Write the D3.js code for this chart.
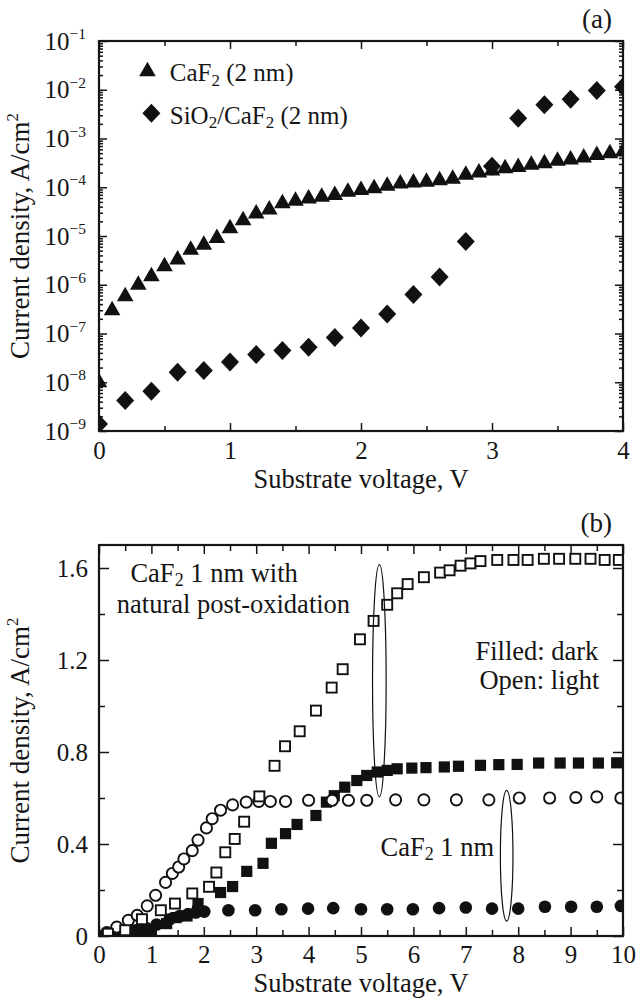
<!DOCTYPE html>
<html><head><meta charset="utf-8">
<script src="https://cdn.jsdelivr.net/npm/d3@7"></script>
<style>
body{margin:0;background:#fff}
svg text{font-family:"Liberation Serif","Times New Roman",Times,serif;fill:#151515}
</style>
</head><body>
<svg id="chart" width="636" height="998" font-family="Liberation Serif, Times New Roman, serif"></svg>
<script>
// ---------------- DATA ----------------
// Panel (a): log current density vs substrate voltage
const aTriV = [0,0.1,0.2,0.3,0.4,0.5,0.6,0.7,0.8,0.9,1.0,1.1,1.2,1.3,1.4,1.5,1.6,1.7,1.8,1.9,2.0,2.1,2.2,2.3,2.4,2.5,2.6,2.7,2.8,2.9,3.0,3.1,3.2,3.3,3.4,3.5,3.6,3.7,3.8,3.9,4.0];
const aTriJ = [1e-8,3.0e-7,5.8e-7,1.0e-6,1.5e-6,2.4e-6,3.3e-6,5.2e-6,6.6e-6,9.1e-6,1.45e-5,2.1e-5,2.9e-5,3.5e-5,4.7e-5,5.3e-5,5.9e-5,6.4e-5,6.9e-5,8.1e-5,8.8e-5,9.5e-5,1.07e-4,1.2e-4,1.25e-4,1.3e-4,1.4e-4,1.5e-4,1.8e-4,2.0e-4,2.2e-4,2.45e-4,2.6e-4,2.9e-4,3.1e-4,3.5e-4,3.7e-4,4.1e-4,4.6e-4,5.0e-4,5.4e-4];
const aDiaV = [0,0.2,0.4,0.6,0.8,1.0,1.2,1.4,1.6,1.8,2.0,2.2,2.4,2.6,2.8,3.0,3.2,3.4,3.6,3.8,4.0];
const aDiaJ = [1.4e-9,4.2e-9,6.5e-9,1.6e-8,1.75e-8,2.6e-8,3.7e-8,4.5e-8,5.2e-8,8.3e-8,1.3e-7,2.5e-7,6.3e-7,1.45e-6,7.7e-6,2.7e-4,2.6e-3,4.9e-3,6.4e-3,9.7e-3,1.15e-2];
const aXTicks = [0,1,2,3,4];
const aXMinor = [0.5,1.5,2.5,3.5];
const aYExp = [-1,-2,-3,-4,-5,-6,-7,-8,-9];
const aLegend = ["CaF2 (2 nm)", "SiO2/CaF2 (2 nm)"];

// Panel (b): linear current density vs substrate voltage
const bOpenSqV = [0.17,0.5,0.82,1.18,1.45,1.78,2.1,2.24,2.41,2.59,2.77,3.06,3.35,3.55,3.83,4.14,4.44,4.65,4.98,5.24,5.5,5.69,5.89,6.2,6.51,6.69,6.9,7.09,7.28,7.6,7.91,8.18,8.49,8.78,9.09,9.38,9.65,9.92];
const bOpenSqJ = [0.01,0.025,0.073,0.112,0.141,0.185,0.214,0.276,0.364,0.422,0.497,0.607,0.74,0.825,0.89,0.98,1.08,1.16,1.29,1.37,1.44,1.49,1.53,1.56,1.58,1.59,1.61,1.62,1.63,1.635,1.635,1.635,1.64,1.64,1.64,1.64,1.635,1.635];
const bFillSqV = [0.2,0.5,0.65,0.81,1.0,1.29,1.47,1.68,1.88,1.89,2.32,2.55,2.82,3.13,3.29,3.56,3.78,4.14,4.34,4.49,4.69,4.92,5.11,5.31,5.5,5.69,5.97,6.24,6.59,6.86,7.28,7.63,7.98,8.39,8.8,9.15,9.53,9.88];
const bFillSqJ = [0.0,0.005,0.015,0.022,0.022,0.054,0.08,0.087,0.109,0.141,0.189,0.215,0.281,0.316,0.403,0.445,0.485,0.524,0.582,0.61,0.647,0.676,0.698,0.713,0.72,0.727,0.73,0.732,0.735,0.738,0.742,0.745,0.746,0.752,0.752,0.752,0.752,0.753];
const bOpenCiV = [0.15,0.34,0.56,0.73,0.92,1.08,1.27,1.4,1.52,1.62,1.78,1.89,2.05,2.16,2.32,2.55,2.81,3.05,3.27,3.56,4.0,4.45,4.76,5.11,5.66,6.2,6.82,7.44,8.02,8.6,9.1,9.5,9.96];
const bOpenCiJ = [0.015,0.039,0.068,0.09,0.131,0.177,0.233,0.272,0.30,0.335,0.371,0.417,0.47,0.51,0.547,0.57,0.582,0.585,0.585,0.585,0.59,0.59,0.59,0.59,0.592,0.592,0.592,0.592,0.6,0.6,0.602,0.605,0.6];
const bFillCiV = [0.1,0.3,0.5,0.7,0.9,1.1,1.35,1.54,1.7,1.85,2.01,2.47,2.98,3.48,3.99,4.47,5.0,5.5,5.99,6.49,7.0,7.5,8.0,8.51,9.01,9.5,9.96];
const bFillCiJ = [0.003,0.008,0.015,0.025,0.035,0.05,0.073,0.087,0.095,0.102,0.106,0.112,0.112,0.116,0.119,0.121,0.116,0.116,0.116,0.121,0.124,0.119,0.119,0.127,0.127,0.127,0.131];
const bXTicks = [0,1,2,3,4,5,6,7,8,9,10];
const bXMinor = [0.5,1.5,2.5,3.5,4.5,5.5,6.5,7.5,8.5,9.5];
const bYTicks = [0,0.4,0.8,1.2,1.6];
const bYTickLabels = ["0","0.4","0.8","1.2","1.6"];
const bYMinor = [0.2,0.6,1.0,1.4];

// ---------------- LAYOUT ----------------
const svg = d3.select("#chart");
const L = 99, R = 623;
const A = {top: 41, bottom: 431};
const B = {top: 545, bottom: 936};
const TICK_FS = 25, TITLE_FS = 26.5, ANN_FS = 26.5;

function rich(g, x, y, parts, size, anchor) {
  const t = g.append("text").attr("x", x).attr("y", y).attr("font-size", size)
    .attr("text-anchor", anchor || "start");
  let off = 0;
  parts.forEach(p => {
    const s = t.append("tspan").text(p.t);
    let target = 0;
    if (p.sub) { s.attr("font-size", size * 0.68); target = size * 0.17; }
    if (p.sup) { s.attr("font-size", size * 0.62); target = -size * 0.42; }
    if (target - off !== 0) s.attr("dy", target - off);
    off = target;
  });
  return t;
}
function splitChem(str) {
  const parts = [];
  const re = /(CaF|SiO)2/g;
  let last = 0, m;
  while ((m = re.exec(str)) !== null) {
    parts.push({t: str.slice(last, m.index) + m[1]});
    parts.push({t: "2", sub: true});
    last = m.index + m[0].length;
  }
  parts.push({t: str.slice(last)});
  return parts.filter(p => p.t !== "");
}

function styleAxis(g) {
  g.select(".domain").remove();
  g.selectAll(".tick line").attr("stroke", "#151515").attr("stroke-width", 1.5);
  g.attr("font-family", null).attr("font-size", null);
}

// ---------------- PANEL A ----------------
const xa = d3.scaleLinear().domain([0, 4]).range([L, R]);
const ya = d3.scaleLog().domain([1e-9, 1e-1]).range([A.bottom, A.top]);
const ga = svg.append("g");
ga.append("clipPath").attr("id", "clipA").append("rect")
  .attr("x", L).attr("y", A.top).attr("width", R - L).attr("height", A.bottom - A.top);

const aMinorY = [];
for (let e = -9; e < -1; e++) for (let k = 2; k <= 9; k++) aMinorY.push(k * Math.pow(10, e));

ga.append("g").attr("transform", `translate(0,${A.bottom})`)
  .call(d3.axisBottom(xa).tickValues(aXTicks).tickSize(-8).tickFormat(d3.format("d")))
  .call(styleAxis)
  .call(g => g.selectAll("text").attr("y", 28).attr("dy", null).attr("font-size", TICK_FS));
ga.append("g").attr("transform", `translate(0,${A.bottom})`)
  .call(d3.axisBottom(xa).tickValues(aXMinor).tickSize(-5).tickFormat(""))
  .call(styleAxis);
ga.append("g").attr("transform", `translate(0,${A.top})`)
  .call(d3.axisTop(xa).tickValues(aXTicks).tickSize(-8).tickFormat(""))
  .call(styleAxis);
ga.append("g").attr("transform", `translate(0,${A.top})`)
  .call(d3.axisTop(xa).tickValues(aXMinor).tickSize(-5).tickFormat(""))
  .call(styleAxis);
[[d3.axisLeft, L], [d3.axisRight, R]].forEach(([ax, pos]) => {
  ga.append("g").attr("transform", `translate(${pos},0)`)
    .call(ax(ya).tickValues(aYExp.map(e => Math.pow(10, e))).tickSize(-8).tickFormat(""))
    .call(styleAxis);
  ga.append("g").attr("transform", `translate(${pos},0)`)
    .call(ax(ya).tickValues(aMinorY).tickSize(-4).tickFormat(""))
    .call(styleAxis);
});
aYExp.forEach(e => {
  rich(ga, L - 13, ya(Math.pow(10, e)) + 8.5,
    [{t: "10"}, {t: "\u2212" + (-e), sup: true}], TICK_FS, "end");
});

const triPath = "M0,-9.5L8.3,5L-8.3,5Z";
const diaPath = "M0,-9.5L9,0L0,9.5L-9,0Z";
const pa = ga.append("g").attr("clip-path", "url(#clipA)");
pa.selectAll(".dia").data(aDiaV).join("path").attr("class", "dia")
  .attr("d", diaPath).attr("fill", "#111")
  .attr("transform", (d, i) => `translate(${xa(d)},${ya(aDiaJ[i])})`);
pa.selectAll(".tri").data(aTriV).join("path").attr("class", "tri")
  .attr("d", triPath).attr("fill", "#111")
  .attr("transform", (d, i) => `translate(${xa(d)},${ya(aTriJ[i])})`);

ga.append("path").attr("d", triPath).attr("fill", "#111")
  .attr("transform", `translate(${xa(0.37)},${ya(Math.pow(10, -1.62))})`);
rich(ga, xa(0.54), ya(Math.pow(10, -1.83)), splitChem(aLegend[0]), 25, "start");
ga.append("path").attr("d", diaPath).attr("fill", "#111")
  .attr("transform", `translate(${xa(0.40)},${ya(Math.pow(10, -2.48))})`);
rich(ga, xa(0.54), ya(Math.pow(10, -2.70)), splitChem(aLegend[1]), 25, "start");

ga.append("rect").attr("x", L).attr("y", A.top).attr("width", R - L).attr("height", A.bottom - A.top)
  .attr("fill", "none").attr("stroke", "#151515").attr("stroke-width", 2.2);
ga.append("text").attr("x", (L + R) / 2).attr("y", A.bottom + 57).attr("text-anchor", "middle")
  .attr("font-size", TITLE_FS).text("Substrate voltage, V");
rich(ga.append("g").attr("transform", `translate(29,${(A.top + A.bottom) / 2}) rotate(-90)`), 0, 0,
  [{t: "Current density, A/cm"}, {t: "2", sup: true}], 27, "middle");
ga.append("text").attr("x", R - 11).attr("y", A.top - 13).attr("text-anchor", "end")
  .attr("font-size", 27).text("(a)");

// ---------------- PANEL B ----------------
const xb = d3.scaleLinear().domain([0, 10]).range([L, R]);
const yb = d3.scaleLinear().domain([0, 1.7]).range([B.bottom, B.top]);
const gb = svg.append("g");
gb.append("clipPath").attr("id", "clipB").append("rect")
  .attr("x", L).attr("y", B.top).attr("width", R - L).attr("height", B.bottom - B.top);

gb.append("g").attr("transform", `translate(0,${B.bottom})`)
  .call(d3.axisBottom(xb).tickValues(bXTicks).tickSize(-9).tickFormat(d3.format("d")))
  .call(styleAxis)
  .call(g => g.selectAll("text").attr("y", 27).attr("dy", null).attr("font-size", TICK_FS));
gb.append("g").attr("transform", `translate(0,${B.bottom})`)
  .call(d3.axisBottom(xb).tickValues(bXMinor).tickSize(-6).tickFormat(""))
  .call(styleAxis);
gb.append("g").attr("transform", `translate(0,${B.top})`)
  .call(d3.axisTop(xb).tickValues(bXTicks).tickSize(-9).tickFormat(""))
  .call(styleAxis);
gb.append("g").attr("transform", `translate(0,${B.top})`)
  .call(d3.axisTop(xb).tickValues(bXMinor).tickSize(-6).tickFormat(""))
  .call(styleAxis);
gb.append("g").attr("transform", `translate(${L},0)`)
  .call(d3.axisLeft(yb).tickValues(bYTicks).tickSize(-10).tickFormat((d, i) => bYTickLabels[i]))
  .call(styleAxis)
  .call(g => g.selectAll("text").attr("x", -11).attr("dy", "0.34em").attr("font-size", TICK_FS));
gb.append("g").attr("transform", `translate(${L},0)`)
  .call(d3.axisLeft(yb).tickValues(bYMinor).tickSize(-6).tickFormat(""))
  .call(styleAxis);
gb.append("g").attr("transform", `translate(${R},0)`)
  .call(d3.axisRight(yb).tickValues(bYTicks).tickSize(-10).tickFormat(""))
  .call(styleAxis);
gb.append("g").attr("transform", `translate(${R},0)`)
  .call(d3.axisRight(yb).tickValues(bYMinor).tickSize(-6).tickFormat(""))
  .call(styleAxis);

const pb = gb.append("g").attr("clip-path", "url(#clipB)");
pb.selectAll(".fc").data(bFillCiV).join("circle").attr("class", "fc")
  .attr("cx", d => xb(d)).attr("cy", (d, i) => yb(bFillCiJ[i])).attr("r", 6.3).attr("fill", "#111");
pb.selectAll(".fs").data(bFillSqV).join("rect").attr("class", "fs")
  .attr("x", d => xb(d) - 5.6).attr("y", (d, i) => yb(bFillSqJ[i]) - 5.6)
  .attr("width", 11.2).attr("height", 11.2).attr("fill", "#111");
pb.selectAll(".oc").data(bOpenCiV).join("circle").attr("class", "oc")
  .attr("cx", d => xb(d)).attr("cy", (d, i) => yb(bOpenCiJ[i])).attr("r", 5.6)
  .attr("fill", "#fff").attr("stroke", "#111").attr("stroke-width", 1.9);
pb.selectAll(".os").data(bOpenSqV).join("rect").attr("class", "os")
  .attr("x", d => xb(d) - 5).attr("y", (d, i) => yb(bOpenSqJ[i]) - 5)
  .attr("width", 10).attr("height", 10)
  .attr("fill", "#fff").attr("stroke", "#111").attr("stroke-width", 1.9);

gb.append("ellipse").attr("cx", xb(5.35)).attr("cy", yb(1.11))
  .attr("rx", xb(0.13) - xb(0)).attr("ry", yb(0) - yb(0.505))
  .attr("fill", "none").attr("stroke", "#111").attr("stroke-width", 1.2);
gb.append("ellipse").attr("cx", xb(7.78)).attr("cy", yb(0.349))
  .attr("rx", xb(0.12) - xb(0)).attr("ry", yb(0) - yb(0.284))
  .attr("fill", "none").attr("stroke", "#111").attr("stroke-width", 1.2);

rich(gb, xb(0.6), yb(1.54), splitChem("CaF2 1 nm with"), ANN_FS, "start");
gb.append("text").attr("x", xb(0.34)).attr("y", yb(1.405)).attr("font-size", ANN_FS).text("natural post-oxidation");
gb.append("text").attr("x", xb(9.53)).attr("y", yb(1.2)).attr("text-anchor", "end").attr("font-size", ANN_FS).text("Filled: dark");
gb.append("text").attr("x", xb(9.55)).attr("y", yb(1.075)).attr("text-anchor", "end").attr("font-size", ANN_FS).text("Open: light");
rich(gb, xb(7.54), yb(0.349), splitChem("CaF2 1 nm"), ANN_FS, "end");

gb.append("rect").attr("x", L).attr("y", B.top).attr("width", R - L).attr("height", B.bottom - B.top)
  .attr("fill", "none").attr("stroke", "#151515").attr("stroke-width", 2.2);
gb.append("text").attr("x", (L + R) / 2).attr("y", B.bottom + 56).attr("text-anchor", "middle")
  .attr("font-size", TITLE_FS).text("Substrate voltage, V");
rich(gb.append("g").attr("transform", `translate(29,${(B.top + B.bottom) / 2}) rotate(-90)`), 0, 0,
  [{t: "Current density, A/cm"}, {t: "2", sup: true}], 27, "middle");
gb.append("text").attr("x", R - 11).attr("y", B.top - 13).attr("text-anchor", "end")
  .attr("font-size", 27).text("(b)");
</script>
</body></html>
